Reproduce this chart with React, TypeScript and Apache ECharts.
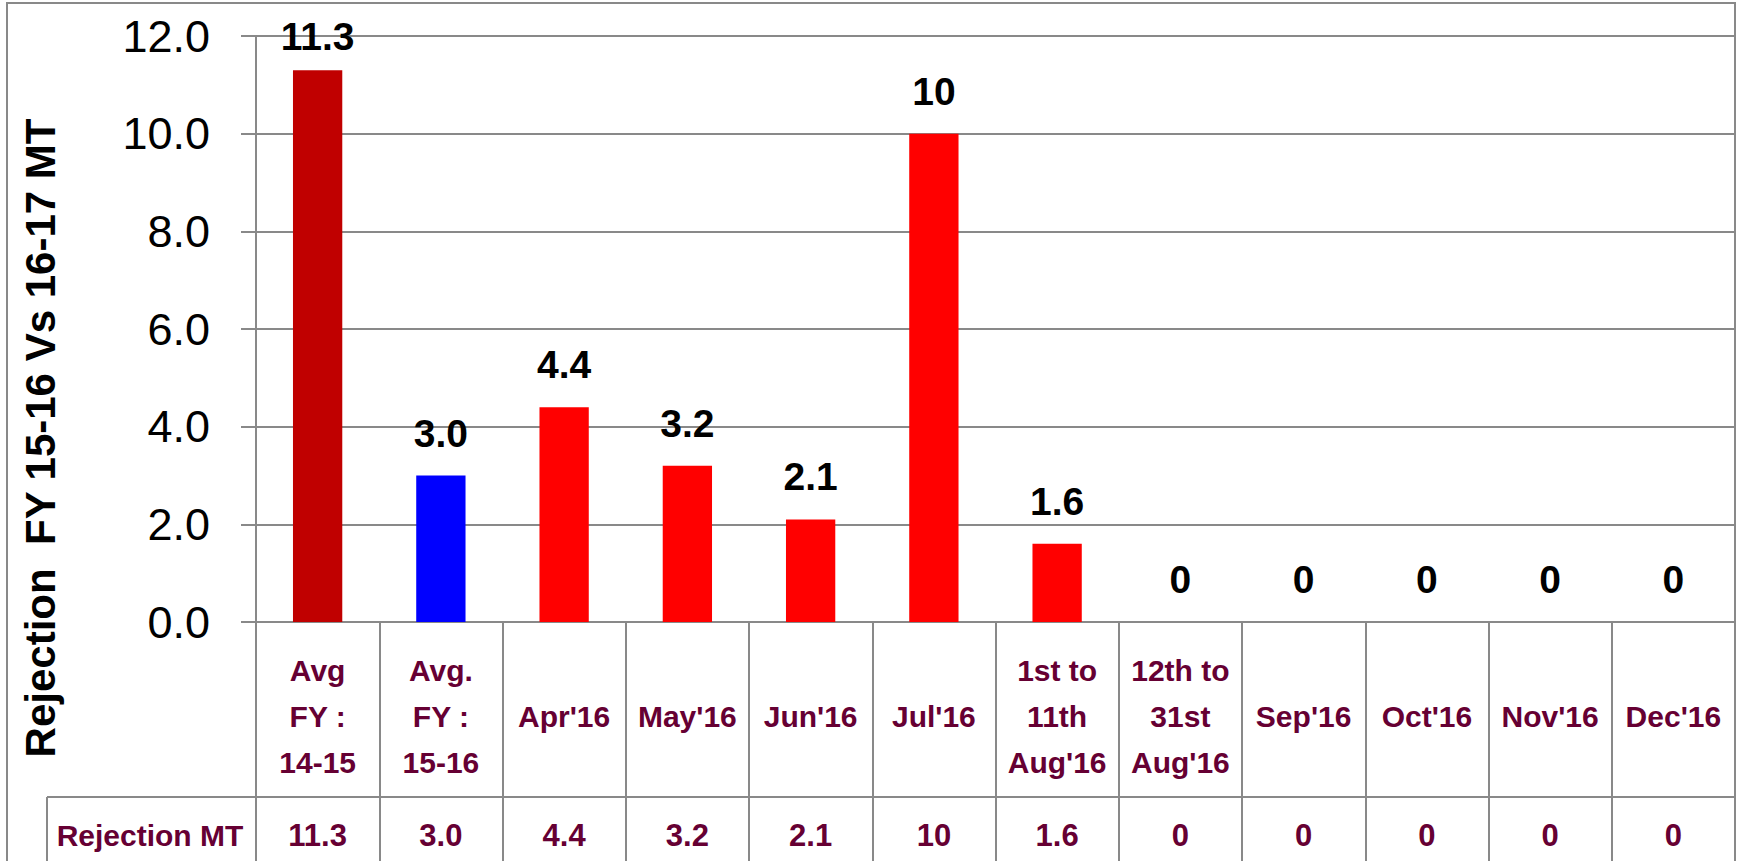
import React, { useEffect, useRef } from "react";
import * as echarts from "echarts";

const categories = [
  "Avg\nFY :\n14-15",
  "Avg.\nFY :\n15-16",
  "Apr'16",
  "May'16",
  "Jun'16",
  "Jul'16",
  "1st to\n11th\nAug'16",
  "12th to\n31st\nAug'16",
  "Sep'16",
  "Oct'16",
  "Nov'16",
  "Dec'16",
];
const rejectionValues = [11.3, 3.0, 4.4, 3.2, 2.1, 10, 1.6, 0, 0, 0, 0, 0];
const valueLabels = ["11.3", "3.0", "4.4", "3.2", "2.1", "10", "1.6", "0", "0", "0", "0", "0"];
const barColors = ["#C00000", "#0000FF", "#FF0000", "#FF0000", "#FF0000", "#FF0000", "#FF0000", "#FF0000", "#FF0000", "#FF0000", "#FF0000", "#FF0000"];
const yTicks = { min: 0, max: 12, interval: 2 };
const yTitle = "Rejection  FY 15-16 Vs 16-17 MT";
const rowTitle = "Rejection MT";

const GRAY = "#898989";
const MAROON = "#660033";
const FONT = "'Liberation Sans', Arial, sans-serif";

export default function App() {
  const ref = useRef<HTMLDivElement>(null);
  useEffect(() => {
    if (!ref.current) return;
    const chart = echarts.init(ref.current, null, { renderer: "svg" });
    chart.setOption({
      animation: false,
      backgroundColor: "#ffffff",
      textStyle: { fontFamily: FONT },
      grid: { left: 256, right: 2, top: 36, bottom: 239, containLabel: false },
      xAxis: [
        {
          type: "category",
          data: categories,
          position: "bottom",
          axisLine: { show: true, lineStyle: { color: GRAY, width: 2 } },
          axisTick: { show: true, interval: 0, length: 175, lineStyle: { color: GRAY, width: 2 } },
          axisLabel: {
            interval: 0,
            margin: 94,
            verticalAlign: "middle",
            color: MAROON,
            fontWeight: "bold",
            fontSize: 30,
            lineHeight: 46,
            fontFamily: FONT,
          },
        },
        {
          type: "category",
          data: valueLabels,
          position: "bottom",
          offset: 175,
          axisLine: { show: true, lineStyle: { color: GRAY, width: 2 } },
          axisTick: { show: true, interval: 0, length: 90, lineStyle: { color: GRAY, width: 2 } },
          axisLabel: {
            interval: 0,
            margin: 38,
            verticalAlign: "middle",
            color: MAROON,
            fontWeight: "bold",
            fontSize: 31,
            fontFamily: FONT,
          },
        },
      ],
      yAxis: {
        type: "value",
        min: yTicks.min,
        max: yTicks.max,
        interval: yTicks.interval,
        axisLine: { show: true, lineStyle: { color: GRAY, width: 2 } },
        axisTick: { show: true, length: 15, lineStyle: { color: GRAY, width: 2 } },
        splitLine: { show: true, lineStyle: { color: GRAY, width: 2 } },
        axisLabel: {
          margin: 46,
          color: "#000",
          fontSize: 45,
          fontFamily: FONT,
          formatter: (v: number) => v.toFixed(1),
        },
      },
      series: [
        {
          type: "bar",
          xAxisIndex: 0,
          barWidth: "40%",
          data: rejectionValues.map((v, i) => ({
            value: v,
            itemStyle: { color: barColors[i] },
            label: i === 0 ? { distance: 14 } : undefined,
          })),
          label: {
            show: true,
            position: "top",
            distance: 23,
            color: "#000",
            fontWeight: "bold",
            fontSize: 39,
            fontFamily: FONT,
            formatter: (p: any) => valueLabels[p.dataIndex],
          },
        },
      ],
      graphic: [
        {
          type: "rect",
          shape: { x: 7, y: 3, width: 1728, height: 920 },
          style: { fill: "none", stroke: GRAY, lineWidth: 2 },
          silent: true,
        },
        {
          type: "line",
          shape: { x1: 47, y1: 797, x2: 256, y2: 797 },
          style: { stroke: GRAY, lineWidth: 2 },
        },
        {
          type: "line",
          shape: { x1: 47, y1: 797, x2: 47, y2: 900 },
          style: { stroke: GRAY, lineWidth: 2 },
        },
        {
          type: "text",
          x: 150,
          y: 835,
          style: {
            text: rowTitle,
            fill: MAROON,
            font: `bold 30px ${FONT}`,
            align: "center",
            verticalAlign: "middle",
          },
        },
        {
          type: "text",
          x: 40,
          y: 438,
          rotation: Math.PI / 2,
          style: {
            text: yTitle,
            fill: "#000",
            font: `bold 42px ${FONT}`,
            align: "center",
            verticalAlign: "middle",
          },
        },
      ],
    });
    return () => chart.dispose();
  }, []);
  return <div ref={ref} style={{ position: "fixed", left: 0, top: 0, width: 1737, height: 861 }} />;
}
